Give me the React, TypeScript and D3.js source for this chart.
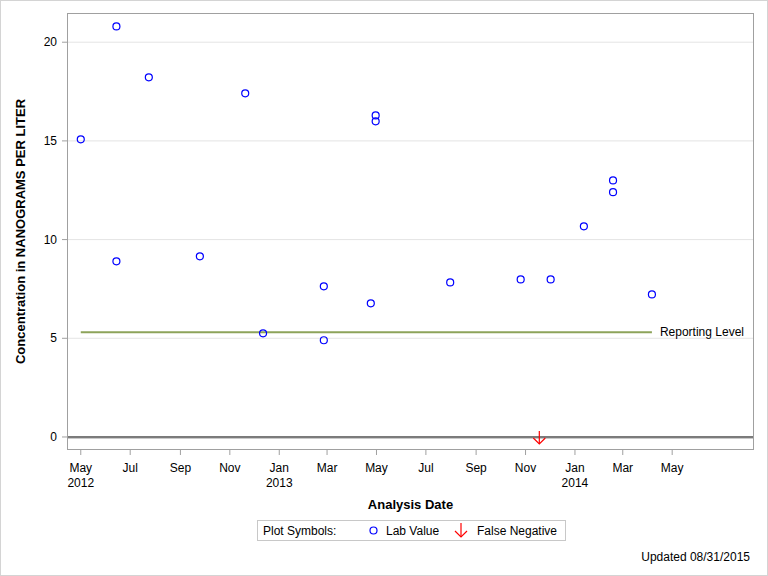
import * as d3 from "d3";

// Lab results (analysis date, concentration ng/L)
const sampleDates = [
  "2012-05-01", "2012-06-14", "2012-06-14", "2012-07-24", "2012-09-25",
  "2012-11-20", "2012-12-12", "2013-02-25", "2013-02-25", "2013-04-24",
  "2013-04-30", "2013-04-30", "2013-07-31", "2013-10-26", "2013-12-02",
  "2014-01-12", "2014-02-17", "2014-02-17", "2014-04-06",
];
const sampleValues = [
  15.08, 20.8, 8.9, 18.22, 9.15,
  17.41, 5.25, 7.63, 4.9, 6.77,
  16.29, 15.99, 7.83, 7.98, 7.98,
  10.67, 13.0, 12.4, 7.22,
];
const falseNegativeDates = ["2013-11-18"];
const reportingLevel = 5.3;
const reportingRange = ["2012-05-01", "2014-04-06"];
const yTicks = [0, 5, 10, 15, 20];
const yearLabels: Record<string, string> = { "2012-4": "2012", "2013-0": "2013", "2014-0": "2014" };

const parse = (s: string) => {
  const [y, m, d] = s.split("-").map(Number);
  return new Date(y, m - 1, d);
};

const W = 768;
const H = 576;
const frame = { left: 67, right: 754, top: 13, bottom: 450 };
const FONT = "'Liberation Sans', Arial, sans-serif";

export default function App() {
  const x = d3
    .scaleTime()
    .domain([new Date(2012, 3, 14), new Date(2014, 7, 10)])
    .range([frame.left, frame.right]);
  const y = d3.scaleLinear().domain([-0.66, 21.48]).range([frame.bottom, frame.top]);

  const xTicks = d3.timeMonth
    .every(2)!
    .range(new Date(2012, 4, 1), new Date(2014, 4, 2));

  const points = sampleDates.map((d, i) => ({ date: parse(d), value: sampleValues[i] }));
  const cx = (frame.left + frame.right) / 2;
  const fmtMonth = d3.timeFormat("%b");

  return (
    <svg
      width={W}
      height={H}
      style={{ position: "fixed", left: 0, top: 0, background: "#fff" }}
      fontFamily={FONT}
    >
      <rect x={0.5} y={0.5} width={W - 1} height={H - 1} fill="#fff" stroke="#d4d4d4" />

      {/* gridlines */}
      {yTicks.filter((t) => t > 0).map((t) => (
        <line key={t} x1={frame.left} x2={frame.right} y1={y(t)} y2={y(t)} stroke="#e4e4e4" />
      ))}

      {/* zero line */}
      <line x1={frame.left} x2={frame.right} y1={y(0)} y2={y(0)} stroke="#7a7a7a" strokeWidth={2} />
      <line x1={frame.left} x2={frame.right} y1={y(0) + 1.5} y2={y(0) + 1.5} stroke="#c8c8c8" strokeWidth={1} />

      {/* reporting level */}
      <line
        x1={x(parse(reportingRange[0]))}
        x2={x(parse(reportingRange[1]))}
        y1={y(reportingLevel)}
        y2={y(reportingLevel)}
        stroke="#8da35a"
        strokeWidth={2}
      />
      <text x={x(parse(reportingRange[1])) + 8} y={y(reportingLevel) + 4} fontSize={12} fill="#000">
        Reporting Level
      </text>

      {/* points */}
      {points.map((p, i) => (
        <circle key={i} cx={x(p.date)} cy={y(p.value)} r={3.5} fill="none" stroke="#0000ff" strokeWidth={1.2} />
      ))}

      {/* false negatives */}
      {falseNegativeDates.map((d) => {
        const px = x(parse(d));
        const py = y(0);
        return (
          <g key={d} stroke="#ff0000" strokeWidth={1.2} fill="none">
            <line x1={px} x2={px} y1={py - 6} y2={py + 7} />
            <polyline points={`${px - 6},${py + 1} ${px},${py + 7} ${px + 6},${py + 1}`} />
          </g>
        );
      })}

      {/* frame */}
      <rect
        x={frame.left + 0.5}
        y={frame.top + 0.5}
        width={frame.right - frame.left - 1}
        height={frame.bottom - frame.top - 1}
        fill="none"
        stroke="#a0a0a0"
      />

      {/* y axis */}
      {yTicks.map((t) => (
        <g key={t}>
          <line x1={frame.left - 5} x2={frame.left} y1={y(t)} y2={y(t)} stroke="#a0a0a0" />
          <text x={frame.left - 10} y={y(t) + 4} textAnchor="end" fontSize={12} fill="#000">
            {t}
          </text>
        </g>
      ))}
      <text
        transform={`translate(25,${(frame.top + frame.bottom) / 2}) rotate(-90)`}
        textAnchor="middle"
        fontSize={13}
        fontWeight="bold"
        fill="#000"
      >
        Concentration in NANOGRAMS PER LITER
      </text>

      {/* x axis */}
      {xTicks.map((t) => {
        const key = `${t.getFullYear()}-${t.getMonth()}`;
        return (
          <g key={key}>
            <line x1={x(t)} x2={x(t)} y1={frame.bottom} y2={frame.bottom + 5} stroke="#a0a0a0" />
            <text x={x(t)} y={frame.bottom + 22} textAnchor="middle" fontSize={12} fill="#000">
              {fmtMonth(t)}
            </text>
            {yearLabels[key] && (
              <text x={x(t)} y={frame.bottom + 37} textAnchor="middle" fontSize={12} fill="#000">
                {yearLabels[key]}
              </text>
            )}
          </g>
        );
      })}
      <text x={cx} y={509} textAnchor="middle" fontSize={13} fontWeight="bold" fill="#000">
        Analysis Date
      </text>

      {/* legend */}
      <rect x={257.5} y={520.5} width={308} height={20} fill="#fff" stroke="#c8c8c8" />
      <text x={263} y={535} fontSize={12} fill="#000">Plot Symbols:</text>
      <circle cx={373.5} cy={530.5} r={3.5} fill="none" stroke="#0000ff" strokeWidth={1.2} />
      <text x={386} y={535} fontSize={12} fill="#000">Lab Value</text>
      <g stroke="#ff0000" strokeWidth={1.2} fill="none">
        <line x1={461} x2={461} y1={523} y2={537} />
        <polyline points="455,531 461,537 467,531" />
      </g>
      <text x={477} y={535} fontSize={12} fill="#000">False Negative</text>

      <text x={750} y={561} textAnchor="end" fontSize={12} fill="#000">
        Updated 08/31/2015
      </text>
    </svg>
  );
}
